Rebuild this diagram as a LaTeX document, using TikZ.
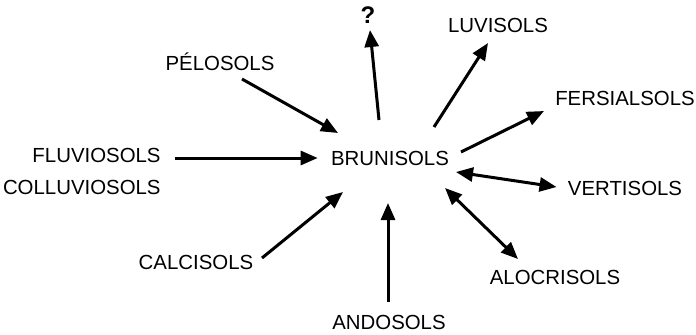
\documentclass[tikz,border=0pt]{standalone}
\usepackage{fontspec}
\setmainfont{Liberation Sans}
\usepackage{tikz}
\usetikzlibrary{positioning, arrows.meta}

\begin{document}
\begin{tikzpicture}[x=0.5pt, y=-0.5pt]
    \tikzstyle{soilnode} = [inner sep=0pt, font=\fontsize{10.2}{12}\selectfont]
    \tikzstyle{link} = [line width=1.5pt, -{Triangle[length=8.5pt, width=7pt]}]
    \tikzstyle{duallink} = [line width=1.5pt, {Triangle[length=8.5pt, width=7pt]}-{Triangle[length=8.5pt, width=7pt]}]

    \useasboundingbox (0,0) rectangle (696,334);

    \node [soilnode] (bru) at (390,158) {BRUNISOLS};
    \node [soilnode, font=\fontsize{12}{14}\selectfont\bfseries] (unk) at (368,15) {?};
    \node [soilnode] (luv) at (498,25) {LUVISOLS};
    \node [soilnode] (pel) at (220,62) {PÉLOSOLS};
    \node [soilnode] (fer) at (625,98) {FERSIALSOLS};
    \node [soilnode, anchor=east] (flu) at (161,155) {FLUVIOSOLS};
    \node [soilnode, anchor=east] (col) at (161,187) {COLLUVIOSOLS};
    \node [soilnode] (ver) at (625,188) {VERTISOLS};
    \node [soilnode] (cal) at (196,262) {CALCISOLS};
    \node [soilnode] (alo) at (555,277) {ALOCRISOLS};
    \node [soilnode] (and) at (389,322) {ANDOSOLS};

    \draw [link] ([xshift=11pt,yshift=-8.5pt]pel.center) -- ([xshift=-26pt,yshift=12.5pt]bru.center);
    \draw [link] ([xshift=7pt,yshift=-1.5pt]flu.east) -- ([xshift=-6.5pt]bru.west);
    \draw [link] ([xshift=33pt,yshift=2pt]cal.center) -- ([xshift=-23.5pt,yshift=-17pt]bru.center);
    \draw [link] ([xshift=-0.5pt,yshift=10pt]and.center) -- ([xshift=-1pt,yshift=-22.5pt]bru.center);
    \draw [link] ([xshift=-5.5pt,yshift=19pt]bru.center) -- ([xshift=1pt,yshift=-7.5pt]unk.center);
    \draw [link] ([xshift=22pt,yshift=15.5pt]bru.center) -- ([xshift=-5pt,yshift=-9pt]luv.center);
    \draw [link] ([xshift=35.5pt,yshift=3pt]bru.center) -- ([xshift=-40.5pt,yshift=-6.5pt]fer.center);
    \draw [duallink] ([xshift=33pt,yshift=-7pt]bru.center) -- ([xshift=-5.5pt,yshift=0.5pt]ver.west);
    \draw [duallink] ([xshift=27.5pt,yshift=-15pt]bru.center) -- ([xshift=-18.5pt,yshift=9pt]alo.center);

\end{tikzpicture}
\end{document}
